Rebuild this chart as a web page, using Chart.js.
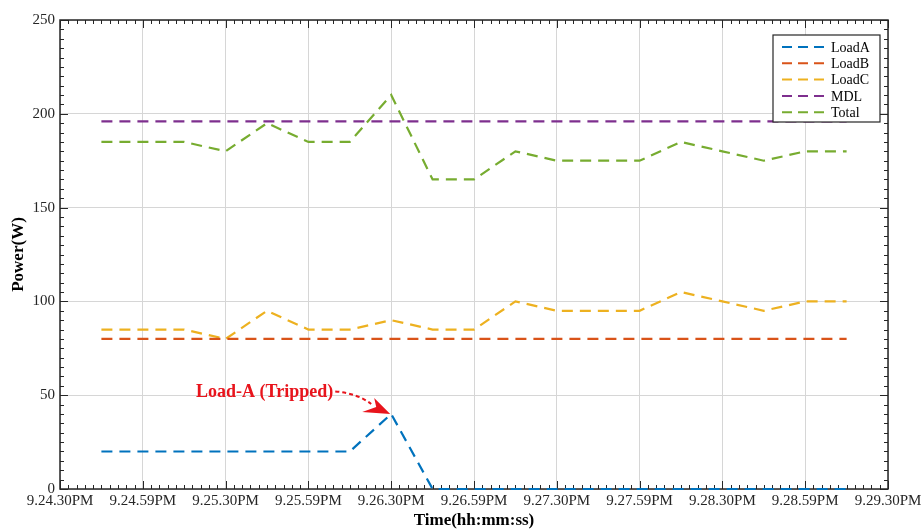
<!DOCTYPE html>
<html lang="en">
<head>
    <meta charset="UTF-8">
    <title>Power vs Time</title>
    <script src="https://cdn.jsdelivr.net/npm/chart.js"></script>
    <style>
        html, body { margin: 0; padding: 0; background: #fff; }
    </style>
</head>
<body>
    <div style="width: 921px; height: 531px;">
        <canvas id="powerChart"></canvas>
    </div>

    <script>
        // tick labels on the time axis (every 2 half-steps)
        const timeLabels = ['9.24.30PM', '9.24.59PM', '9.25.30PM', '9.25.59PM', '9.26.30PM',
            '9.26.59PM', '9.27.30PM', '9.27.59PM', '9.28.30PM', '9.28.59PM', '9.29.30PM'];

        // samples sit at half-steps 1..19
        const loadA = [20, 20, 20, 20, 20, 20, 20, 40, 0, 0, 0, 0, 0, 0, 0, 0, 0, 0, 0];
        const loadB = [80, 80, 80, 80, 80, 80, 80, 80, 80, 80, 80, 80, 80, 80, 80, 80, 80, 80, 80];
        const loadC = [85, 85, 85, 80, 95, 85, 85, 90, 85, 85, 100, 95, 95, 95, 105, 100, 95, 100, 100];
        const mdl = [196, 196, 196, 196, 196, 196, 196, 196, 196, 196, 196, 196, 196, 196, 196, 196, 196, 196, 196];
        const total = [185, 185, 185, 180, 195, 185, 185, 210, 165, 165, 180, 175, 175, 175, 185, 180, 175, 180, 180];

        const serif = '"Liberation Serif", "Times New Roman", serif';

        const toPoints = arr => arr.map((v, i) => ({ x: i + 1, y: v }));

        const series = [
            { label: 'LoadA', data: loadA, color: '#0072BD' },
            { label: 'LoadB', data: loadB, color: '#D95319' },
            { label: 'LoadC', data: loadC, color: '#EDB120' },
            { label: 'MDL', data: mdl, color: '#7E2F8E' },
            { label: 'Total', data: total, color: '#77AC30' },
        ];

        // box frame + inward minor ticks, MATLAB style (under the lines)
        const framePlugin = {
            id: 'frame',
            beforeDatasetsDraw(chart) {
                const { ctx, chartArea: a, scales } = chart;
                ctx.save();
                ctx.strokeStyle = '#262626';
                ctx.lineWidth = 1;
                ctx.beginPath();
                for (let v = 0; v <= 20.001; v += 0.2) {
                    const px = Math.round(scales.x.getPixelForValue(v)) + 0.5;
                    const major = Math.abs(v / 2 - Math.round(v / 2)) < 0.01;
                    const len = major ? 8 : 4;
                    ctx.moveTo(px, a.bottom); ctx.lineTo(px, a.bottom - len);
                    ctx.moveTo(px, a.top); ctx.lineTo(px, a.top + len);
                }
                for (let v = 0; v <= 250; v += 5) {
                    const py = Math.round(scales.y.getPixelForValue(v)) + 0.5;
                    const len = v % 50 === 0 ? 8 : 4;
                    ctx.moveTo(a.left, py); ctx.lineTo(a.left + len, py);
                    ctx.moveTo(a.right, py); ctx.lineTo(a.right - len, py);
                }
                ctx.stroke();
                ctx.lineWidth = 1.5;
                ctx.strokeRect(a.left, a.top, a.right - a.left, a.bottom - a.top);
                ctx.restore();
            }
        };

        // "Load-A (Tripped)" callout
        const calloutPlugin = {
            id: 'callout',
            afterDatasetsDraw(chart) {
                const { ctx, scales } = chart;
                const tx = scales.x.getPixelForValue(6.6);
                const ty = scales.y.getPixelForValue(51.5);
                const hx = scales.x.getPixelForValue(8);
                const hy = scales.y.getPixelForValue(40);
                ctx.save();
                ctx.fillStyle = '#E8141C';
                ctx.strokeStyle = '#E8141C';
                ctx.font = 'bold 18px ' + serif;
                ctx.textAlign = 'right';
                ctx.textBaseline = 'middle';
                ctx.fillText('Load-A (Tripped)', tx, ty);

                ctx.lineWidth = 2;
                ctx.setLineDash([4, 3]);
                ctx.beginPath();
                ctx.moveTo(tx + 2, ty - 1);
                ctx.quadraticCurveTo(tx + 24, ty + 1, hx - 20, hy - 10);
                ctx.stroke();
                ctx.setLineDash([]);

                ctx.beginPath();
                ctx.moveTo(hx - 1, hy);
                ctx.lineTo(hx - 17, hy - 16);
                ctx.lineTo(hx - 15, hy - 7);
                ctx.lineTo(hx - 29, hy - 2);
                ctx.closePath();
                ctx.fill();
                ctx.restore();
            }
        };

        // legend box in the upper right of the plot
        const legendPlugin = {
            id: 'boxLegend',
            afterDatasetsDraw(chart) {
                const { ctx, chartArea: a } = chart;
                const w = 107, h = 87;
                const x0 = a.right - 8 - w, y0 = a.top + 15;
                ctx.save();
                ctx.fillStyle = '#fff';
                ctx.fillRect(x0, y0, w, h);
                ctx.strokeStyle = '#262626';
                ctx.lineWidth = 1.2;
                ctx.strokeRect(x0, y0, w, h);
                ctx.font = '14px ' + serif;
                ctx.textBaseline = 'middle';
                ctx.textAlign = 'left';
                chart.data.datasets.forEach((ds, i) => {
                    const y = y0 + 12 + i * 16.3;
                    ctx.strokeStyle = ds.borderColor;
                    ctx.lineWidth = 2;
                    ctx.setLineDash([10, 6]);
                    ctx.beginPath();
                    ctx.moveTo(x0 + 9, y);
                    ctx.lineTo(x0 + 55, y);
                    ctx.stroke();
                    ctx.setLineDash([]);
                    ctx.fillStyle = '#000';
                    ctx.fillText(ds.label, x0 + 58, y + 1);
                });
                ctx.restore();
            }
        };

        const ctx = document.getElementById('powerChart').getContext('2d');
        const chart = new Chart(ctx, {
            type: 'line',
            data: {
                datasets: series.map(s => ({
                    label: s.label,
                    data: toPoints(s.data),
                    borderColor: s.color,
                    backgroundColor: s.color,
                    borderWidth: 2.2,
                    borderDash: [11, 7],
                    pointRadius: 0,
                    tension: 0,
                    fill: false,
                    clip: 4,
                })),
            },
            options: {
                responsive: true,
                maintainAspectRatio: false,
                animation: false,
                layout: { padding: { left: 0, right: 33, top: 20, bottom: 0 } },
                plugins: {
                    legend: { display: false },
                    tooltip: { enabled: false },
                },
                scales: {
                    x: {
                        type: 'linear',
                        min: 0,
                        max: 20,
                        afterFit: s => { s.height = 42; s.paddingLeft = 0; s.paddingRight = 0; },
                        grid: { color: '#d6d6d6', drawTicks: false },
                        border: { display: false },
                        ticks: {
                            stepSize: 2,
                            padding: 3,
                            maxRotation: 0,
                            autoSkip: false,
                            color: '#262626',
                            font: { family: serif, size: 15 },
                            callback: v => timeLabels[Math.round(v / 2)],
                        },
                        title: {
                            display: true,
                            text: 'Time(hh:mm:ss)',
                            color: '#000',
                            font: { family: serif, size: 17, weight: 'bold' },
                            padding: { top: 0, bottom: 0 },
                        },
                    },
                    y: {
                        min: 0,
                        max: 250,
                        afterFit: s => { s.width = 60; s.paddingTop = 0; s.paddingBottom = 0; },
                        grid: { color: '#d6d6d6', drawTicks: false },
                        border: { display: false },
                        ticks: {
                            stepSize: 50,
                            padding: 5,
                            color: '#262626',
                            font: { family: serif, size: 15 },
                        },
                        title: {
                            display: true,
                            text: 'Power(W)',
                            color: '#000',
                            font: { family: serif, size: 17, weight: 'bold' },
                            padding: { top: 8, bottom: 0 },
                        },
                    },
                },
            },
            plugins: [framePlugin, calloutPlugin, legendPlugin],
        });
    </script>
</body>
</html>
